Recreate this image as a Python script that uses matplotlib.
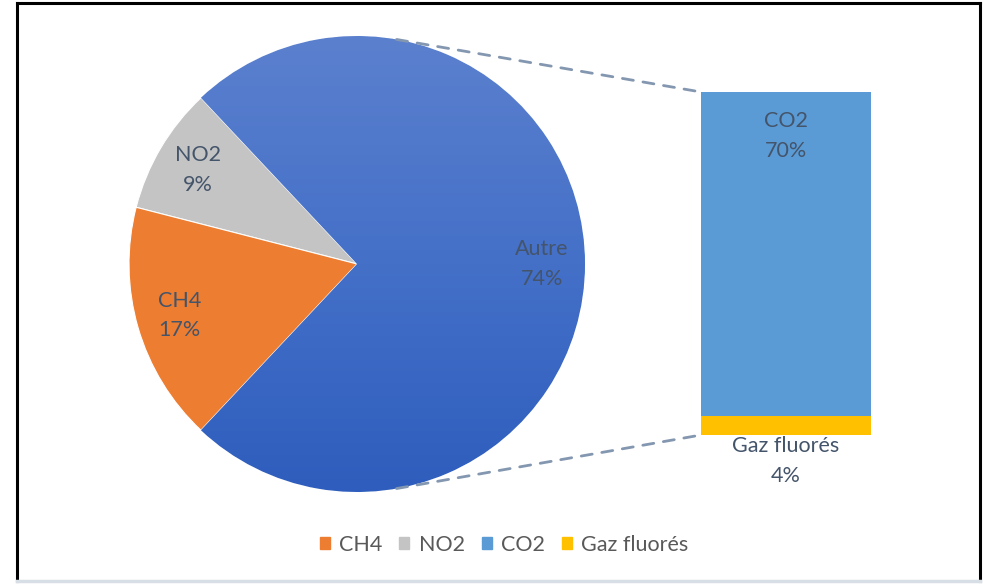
import numpy as np
import matplotlib
matplotlib.use("Agg")
import matplotlib.pyplot as plt
from matplotlib.patches import ConnectionPatch, Rectangle
from matplotlib.lines import Line2D
from matplotlib.colors import LinearSegmentedColormap

plt.rcParams['font.family'] = ['Lato', 'DejaVu Sans']

# ---- data ----
pie_labels = ["Autre", "NO2", "CH4"]
pie_values = [74, 9, 17]
pie_colors = ["#4472C4", "#C4C4C4", "#ED7D31"]

bar_labels = ["Gaz fluorés", "CO2"]   # bottom to top
bar_values = [4, 70]
bar_colors = ["#FFC000", "#5B9BD5"]

legend_labels = ["CH4", "NO2", "CO2", "Gaz fluorés"]
legend_colors = ["#ED7D31", "#C4C4C4", "#5B9BD5", "#FFC000"]

W, H = 983, 584
fig = plt.figure(figsize=(W / 100, H / 100), dpi=100)
fig.patch.set_facecolor("white")

label_color = "#44546A"
fs = 15.5
ls = 1.6

# ---- pie ----
cx, cy, r = 357, 264, 228
axp = fig.add_axes([(cx - r) / W, (H - cy - r) / H, 2 * r / W, 2 * r / H])
start = -pie_values[0] / sum(pie_values) * 180
wedges, _ = axp.pie(pie_values, colors=pie_colors, startangle=start,
                    counterclock=True, radius=1,
                    wedgeprops=dict(linewidth=0.8, edgecolor="white"))
axp.set_aspect("equal")
axp.axis("off")

# gradient on the "Autre" wedge
cmap = LinearSegmentedColormap.from_list("g", ["#2E5DBD", "#4470C8", "#5B80CE"])
grad = np.linspace(0, 1, 256).reshape(-1, 1)
im = axp.imshow(grad, extent=[-1, 1, -1, 1], origin="lower", cmap=cmap,
                aspect="auto", zorder=wedges[0].get_zorder() + 0.1)
im.set_clip_path(wedges[0])
axp.set_xlim(-1, 1)
axp.set_ylim(-1, 1)

for w, lab, v in zip(wedges, pie_labels, pie_values):
    ang = np.deg2rad((w.theta1 + w.theta2) / 2)
    d = 0.81
    axp.text(d * np.cos(ang), d * np.sin(ang), f"{lab}\n{v}%",
             ha="center", va="center", fontsize=fs, color=label_color,
             linespacing=ls, zorder=5)

# ---- bar ----
bx0, bx1, by0, by1 = 701, 871, 92, 435
axb = fig.add_axes([bx0 / W, (H - by1) / H, (bx1 - bx0) / W, (by1 - by0) / H])
bottom = 0
for lab, v, c in zip(bar_labels, bar_values, bar_colors):
    axb.bar(0, v, width=1, bottom=bottom, color=c, linewidth=0)
    bottom += v
axb.set_xlim(-0.5, 0.5)
axb.set_ylim(0, sum(bar_values))
axb.axis("off")

axb.text(0.5, 1 - 44 / (by1 - by0), f"{bar_labels[1]}\n{bar_values[1]}%",
         transform=axb.transAxes, ha="center", va="center", fontsize=fs,
         color=label_color, linespacing=ls)
axb.text(0.5, -1 / (by1 - by0), f"{bar_labels[0]}\n{bar_values[0]}%",
         transform=axb.transAxes, ha="center", va="top", fontsize=fs,
         color=label_color, linespacing=ls)

# ---- connectors ----
a = np.deg2rad(80)
for py, by in [(np.sin(a), sum(bar_values)), (-np.sin(a), 0)]:
    con = ConnectionPatch(xyA=(np.cos(a), py), coordsA=axp.transData,
                          xyB=(-0.5, by), coordsB=axb.transData,
                          color="#8497B0", linestyle=(0, (4, 3.5)), linewidth=2)
    fig.add_artist(con)

# ---- legend ----
handles = [Rectangle((0, 0), 1, 1, color=c) for c in legend_colors]
fig.legend(handles, legend_labels, loc="center", bbox_to_anchor=(504 / W, 1 - 545 / H),
           ncol=4, frameon=False, fontsize=fs, handlelength=0.47, handleheight=0.47,
           handletextpad=0.42, columnspacing=0.8, labelcolor="#595959")

# ---- frame ----
fig.add_artist(Line2D([17 / W, 17 / W], [1 - 3 / H, 1 - 581 / H], color="black", lw=2.2))
fig.add_artist(Line2D([980 / W, 980 / W], [1 - 3 / H, 1 - 581 / H], color="black", lw=2.2))
fig.add_artist(Line2D([17 / W, 980 / W], [1 - 3 / H, 1 - 3 / H], color="black", lw=2.2))
fig.add_artist(Line2D([17 / W, 980 / W], [1 - 581 / H, 1 - 581 / H], color="#D8DEE6", lw=2.5))

fig.savefig("out.png", dpi=100, facecolor="white")
